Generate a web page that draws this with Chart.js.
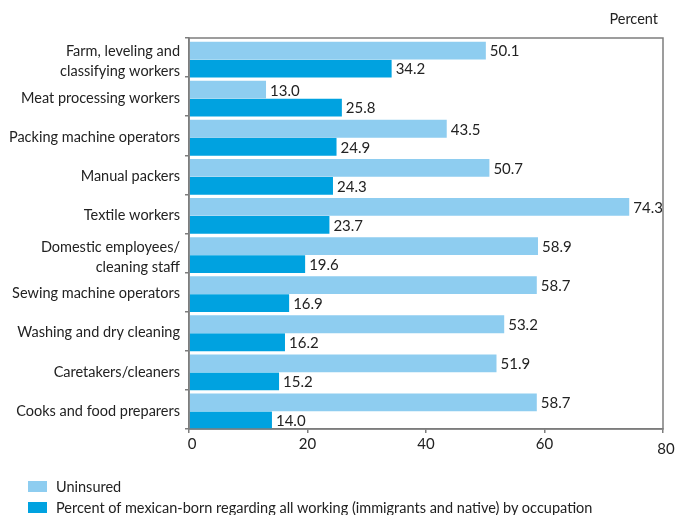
<!DOCTYPE html>
<html>
<head>
<meta charset="utf-8">
<script src="https://cdn.jsdelivr.net/npm/chart.js@4.4.0/dist/chart.umd.min.js"></script>
<style>
  body { margin: 0; background: #fff; font-family: Lato, sans-serif; color: #222; }
  #wrap { position: relative; width: 685px; height: 515px; }
  .leg { position: absolute; left: 28px; font-size: 14.5px; display: flex; align-items: center; height: 12px; }
  .leg span.box { display: inline-block; width: 19px; height: 11px; margin-right: 9px; }
</style>
</head>
<body>
<div id="wrap">
  <canvas id="c" width="685" height="515"></canvas>
  <div class="leg" style="top:480px"><span class="box" style="background:#8ecdf0"></span>Uninsured</div>
  <div class="leg" style="top:501px"><span class="box" style="background:#00a2e0"></span>Percent of mexican-born regarding all working (immigrants and native) by occupation</div>
</div>
<script>
// occupations, top to bottom
const categories = [
  ['Farm, leveling and', 'classifying workers'],
  'Meat processing workers',
  'Packing machine operators',
  'Manual packers',
  'Textile workers',
  ['Domestic employees/', 'cleaning staff'],
  'Sewing machine operators',
  'Washing and dry cleaning',
  'Caretakers/cleaners',
  'Cooks and food preparers'
];
const uninsured = [50.1, 13.0, 43.5, 50.7, 74.3, 58.9, 58.7, 53.2, 51.9, 58.7];
const mexicanBorn = [34.2, 25.8, 24.9, 24.3, 23.7, 19.6, 16.9, 16.2, 15.2, 14.0];
const xTicks = [0, 20, 40, 60, 80];

const axisColor = '#7d7d7d';
const textColor = '#222';
const font = 'Lato, sans-serif';

// bars sit a little low in each band, then value labels, frame, texts
const extras = {
  id: 'extras',
  beforeDatasetsDraw(chart) {
    chart.ctx.save();
    chart.ctx.translate(0, 2);
  },
  afterDatasetsDraw(chart) {
    const ctx = chart.ctx;
    ctx.font = '15px ' + font;
    ctx.fillStyle = textColor;
    ctx.textBaseline = 'middle';
    ctx.textAlign = 'left';
    chart.data.datasets.forEach((ds, i) => {
      chart.getDatasetMeta(i).data.forEach((bar, j) => {
        ctx.fillText(ds.data[j].toFixed(1), bar.x + 4, bar.y + 1);
      });
    });
    ctx.restore();
  },
  afterDraw(chart) {
    const ctx = chart.ctx, a = chart.chartArea, xs = chart.scales.x, ys = chart.scales.y;
    ctx.save();
    ctx.strokeStyle = axisColor;
    ctx.lineWidth = 1.5;
    ctx.strokeRect(a.left, a.top, a.right - a.left, a.bottom - a.top);
    ctx.fillStyle = textColor;
    ctx.textBaseline = 'middle';

    ctx.font = '14.5px ' + font;
    ctx.textAlign = 'right';
    ctx.fillText('Percent', a.right - 5, a.top - 19);
    categories.forEach((lab, i) => {
      const y = ys.getPixelForValue(i);
      if (Array.isArray(lab)) {
        ctx.fillText(lab[0], 180, y - 6);
        ctx.fillText(lab[1], 180, y + 14);
      } else {
        ctx.fillText(lab, 180, y + 1.5);
      }
    });

    ctx.font = '15px ' + font;
    ctx.textAlign = 'center';
    xTicks.forEach(v => {
      const dx = v === 0 ? 3 : v === 80 ? 3 : 0;
      const dy = v === 80 ? 5 : 0;
      ctx.fillText(String(v), xs.getPixelForValue(v) + dx, a.bottom + 15 + dy);
    });
    ctx.restore();
  }
};

new Chart(document.getElementById('c'), {
  type: 'bar',
  data: {
    labels: categories,
    datasets: [
      { label: 'Uninsured', data: uninsured, backgroundColor: '#8ecdf0' },
      { label: 'Percent of mexican-born', data: mexicanBorn, backgroundColor: '#00a2e0' }
    ]
  },
  options: {
    indexAxis: 'y',
    responsive: false,
    animation: false,
    categoryPercentage: 0.92,
    barPercentage: 0.99,
    layout: { padding: { top: 38, right: 22, left: 0, bottom: 0 } },
    plugins: { legend: { display: false }, tooltip: { enabled: false } },
    scales: {
      x: {
        min: 0, max: 80,
        afterBuildTicks: s => { s.ticks = xTicks.map(v => ({ value: v })); },
        afterFit: s => { s.height = 86; },
        ticks: { color: 'rgba(0,0,0,0)', font: { size: 15, family: font } },
        grid: { drawOnChartArea: false, tickLength: 4, color: axisColor, lineWidth: 1.5 },
        border: { color: axisColor, width: 1.5 }
      },
      y: {
        afterFit: s => { s.width = 189; },
        ticks: { autoSkip: false, color: 'rgba(0,0,0,0)', padding: 5, font: { size: 14.5, family: font } },
        grid: { offset: true, drawOnChartArea: false, tickLength: 4, color: axisColor, lineWidth: 1.5 },
        border: { color: axisColor, width: 1.5 }
      }
    }
  },
  plugins: [extras]
});
</script>
</body>
</html>
